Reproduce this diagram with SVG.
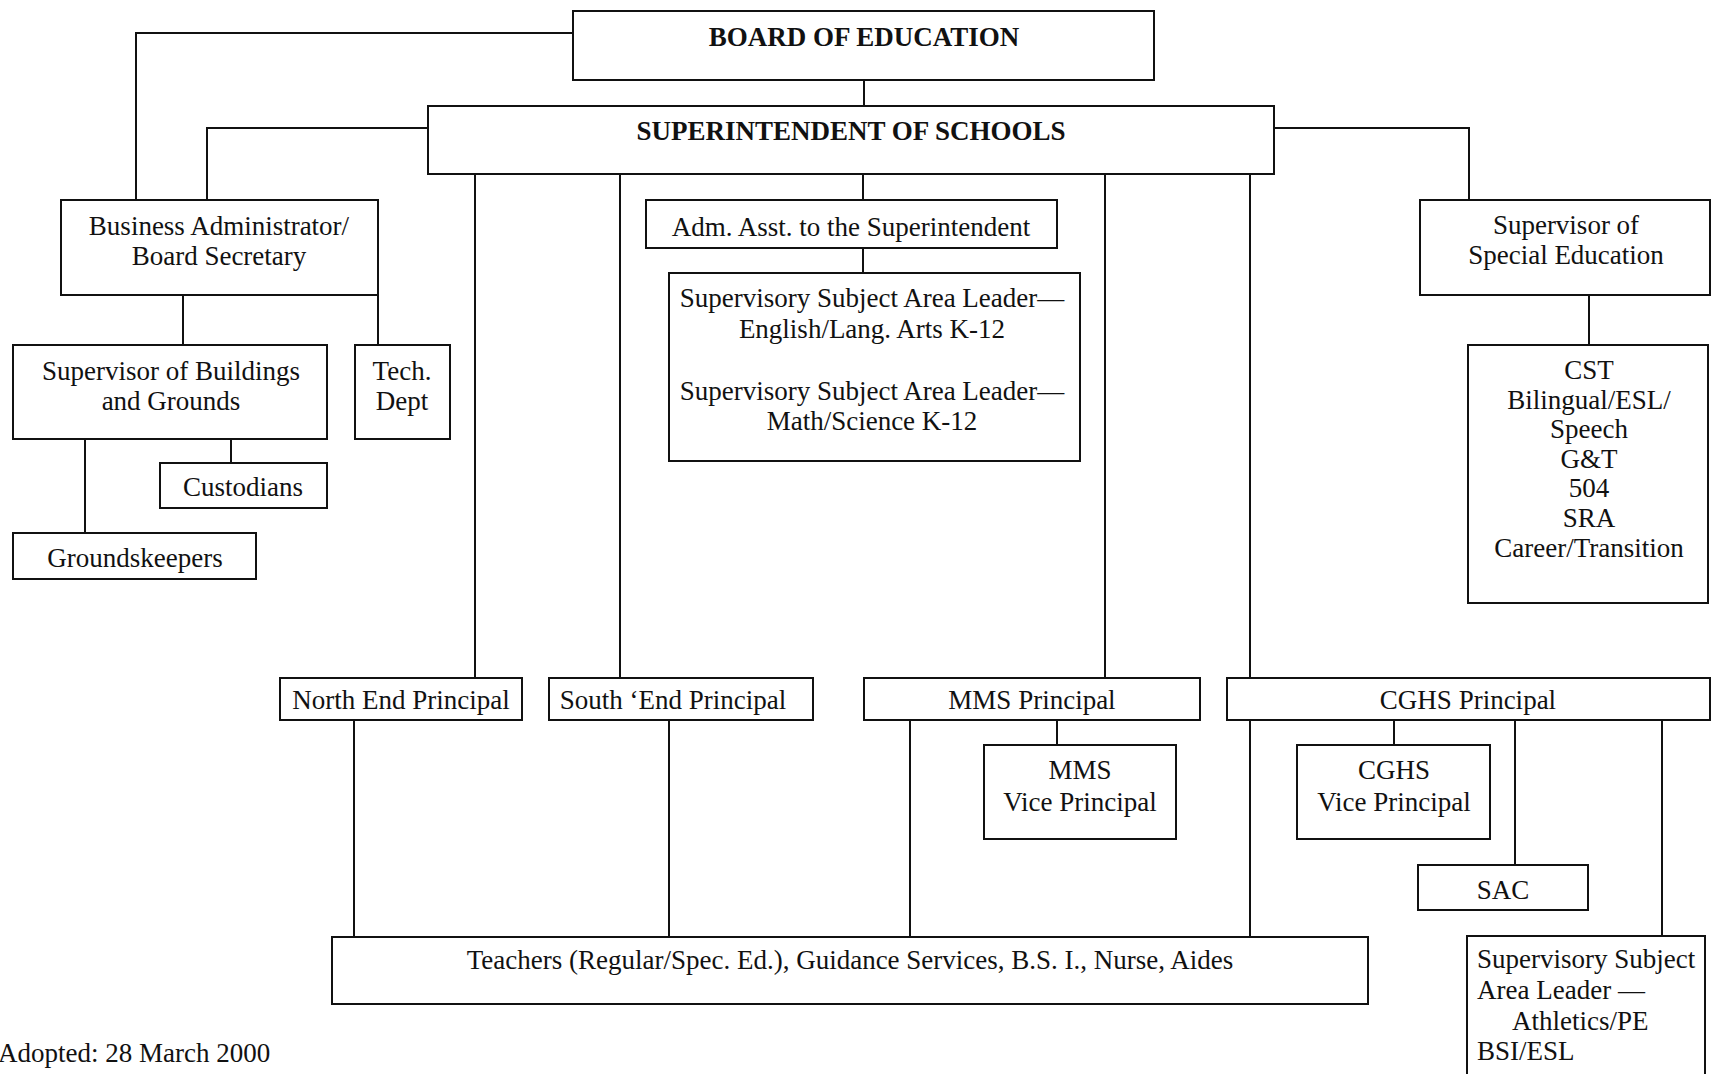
<svg xmlns="http://www.w3.org/2000/svg" width="1716" height="1074" viewBox="0 0 1716 1074">
<style>
.b{fill:#fff;stroke:#111;stroke-width:2}
.c{fill:none;stroke:#111;stroke-width:2}
text{font-family:"Liberation Serif","Times New Roman",serif;font-size:27px;fill:#111}
.m{text-anchor:middle}
.h{font-weight:bold;font-size:27px}
</style>
<rect width="1716" height="1074" fill="#fff"/>
<g id="connectors">
<path class="c" d="M573,33H136V200"/>
<path class="c" d="M864,80V106"/>
<path class="c" d="M428,128H207V200"/>
<path class="c" d="M1274,128H1469V200"/>
<path class="c" d="M475,174V678"/>
<path class="c" d="M620,174V678"/>
<path class="c" d="M863,174V200"/>
<path class="c" d="M1105,174V678"/>
<path class="c" d="M1250,174V678"/>
<path class="c" d="M863,248V273"/>
<path class="c" d="M183,295V345"/>
<path class="c" d="M378,295V345"/>
<path class="c" d="M231,439V463"/>
<path class="c" d="M85,439V533"/>
<path class="c" d="M1589,295V345"/>
<path class="c" d="M354,720V937"/>
<path class="c" d="M669,720V937"/>
<path class="c" d="M910,720V937"/>
<path class="c" d="M1250,720V937"/>
<path class="c" d="M1057,720V745"/>
<path class="c" d="M1394,720V745"/>
<path class="c" d="M1515,720V865"/>
<path class="c" d="M1662,720V936"/>
</g>
<g id="board"><rect class="b" x="573" y="11" width="581" height="69"/><text class="m h" x="864" y="46">BOARD OF EDUCATION</text></g>
<g id="superintendent"><rect class="b" x="428" y="106" width="846" height="68"/><text class="m h" x="851" y="140">SUPERINTENDENT OF SCHOOLS</text></g>
<g id="business"><rect class="b" x="61" y="200" width="317" height="95"/><text class="m" x="219" y="235">Business Administrator/</text><text class="m" x="219" y="265">Board Secretary</text></g>
<g id="admasst"><rect class="b" x="646" y="200" width="411" height="48"/><text class="m" x="851" y="236">Adm. Asst. to the Superintendent</text></g>
<g id="sal"><rect class="b" x="669" y="273" width="411" height="188"/><text class="m" x="872" y="307">Supervisory Subject Area Leader—</text><text class="m" x="872" y="338">English/Lang. Arts K-12</text><text class="m" x="872" y="400">Supervisory Subject Area Leader—</text><text class="m" x="872" y="430">Math/Science K-12</text></g>
<g id="specialed"><rect class="b" x="1420" y="200" width="290" height="95"/><text class="m" x="1566" y="234">Supervisor of</text><text class="m" x="1566" y="264">Special Education</text></g>
<g id="buildings"><rect class="b" x="13" y="345" width="314" height="94"/><text class="m" x="171" y="380">Supervisor of Buildings</text><text class="m" x="171" y="410">and Grounds</text></g>
<g id="tech"><rect class="b" x="355" y="345" width="95" height="94"/><text class="m" x="402" y="380">Tech.</text><text class="m" x="402" y="410">Dept</text></g>
<g id="custodians"><rect class="b" x="160" y="463" width="167" height="45"/><text class="m" x="243" y="496">Custodians</text></g>
<g id="groundskeepers"><rect class="b" x="13" y="533" width="243" height="46"/><text class="m" x="135" y="567">Groundskeepers</text></g>
<g id="cst"><rect class="b" x="1468" y="345" width="240" height="258"/><text class="m" x="1589" y="379">CST</text><text class="m" x="1589" y="409">Bilingual/ESL/</text><text class="m" x="1589" y="438">Speech</text><text class="m" x="1589" y="468">G&amp;T</text><text class="m" x="1589" y="497">504</text><text class="m" x="1589" y="527">SRA</text><text class="m" x="1589" y="557">Career/Transition</text></g>
<g id="northend"><rect class="b" x="280" y="678" width="242" height="42"/><text class="m" x="401" y="709">North End Principal</text></g>
<g id="southend"><rect class="b" x="549" y="678" width="264" height="42"/><text class="m" x="673" y="709">South ‘End Principal</text></g>
<g id="mms"><rect class="b" x="864" y="678" width="336" height="42"/><text class="m" x="1032" y="709">MMS Principal</text></g>
<g id="cghs"><rect class="b" x="1227" y="678" width="483" height="42"/><text class="m" x="1468" y="709">CGHS Principal</text></g>
<g id="mmsvp"><rect class="b" x="984" y="745" width="192" height="94"/><text class="m" x="1080" y="779">MMS</text><text class="m" x="1080" y="811">Vice Principal</text></g>
<g id="cghsvp"><rect class="b" x="1297" y="745" width="193" height="94"/><text class="m" x="1394" y="779">CGHS</text><text class="m" x="1394" y="811">Vice Principal</text></g>
<g id="sac"><rect class="b" x="1418" y="865" width="170" height="45"/><text class="m" x="1503" y="899">SAC</text></g>
<g id="teachers"><rect class="b" x="332" y="937" width="1036" height="67"/><text class="m" x="850" y="969">Teachers (Regular/Spec. Ed.), Guidance Services, B.S. I., Nurse, Aides</text></g>
<g id="athletics"><rect class="b" x="1467" y="936" width="238" height="150"/><text x="1477" y="968">Supervisory Subject</text><text x="1477" y="999">Area Leader —</text><text x="1512" y="1030">Athletics/PE</text><text x="1477" y="1060">BSI/ESL</text></g>
<g id="adopted"><text x="-2" y="1062">Adopted: 28 March 2000</text></g>
</svg>
